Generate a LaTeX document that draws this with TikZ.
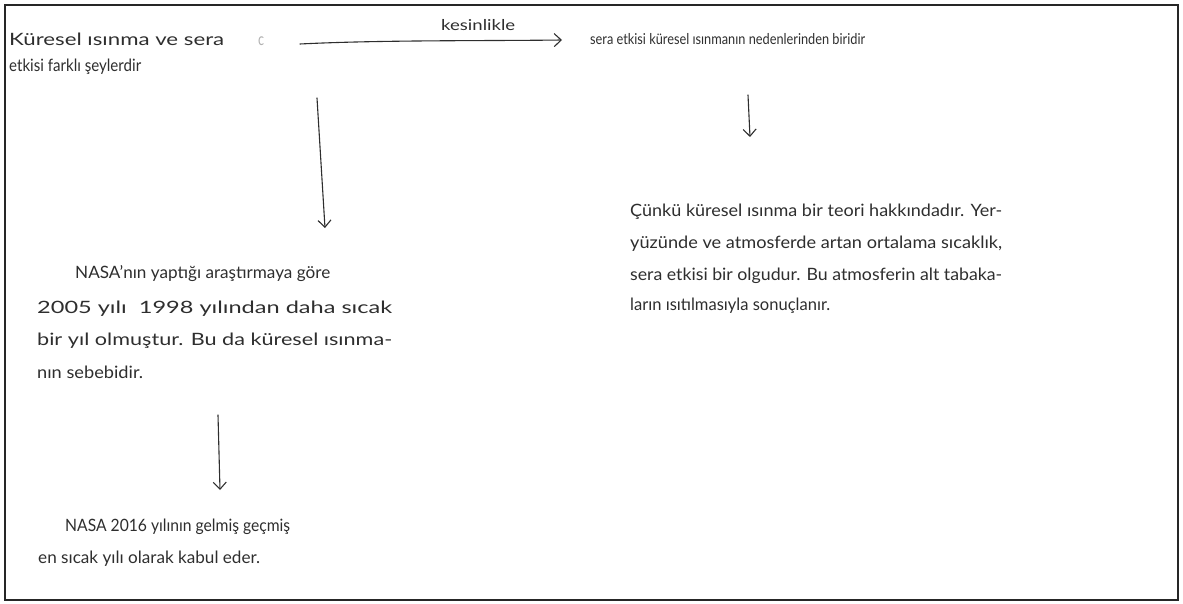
\documentclass[tikz,border=0pt]{standalone}
\usepackage{fontspec}
\setmainfont{Lato}
\usetikzlibrary{arrows.meta}
\definecolor{ink}{HTML}{2E2E2E}
\definecolor{faint}{HTML}{B0B0B0}
% set a line of text and stretch it horizontally to a given width (in pt)
\newcommand\fitline[2]{\sbox0{#2}\pgfmathsetmacro\fitf{#1/\wd0}\scalebox{\fitf}[1]{\usebox0}}
\tikzset{
  hand/.style={anchor=base west, inner sep=0pt, text=ink, font=\fontsize{17}{20}\selectfont},
  smallhand/.style={hand, font=\fontsize{15}{18}\selectfont},
  pen/.style={draw=ink, line width=1.1pt, line cap=round,
    -{Straight Barb[length=7pt,width=13pt,line width=1.1pt]}},
  frame/.style={draw=black!85, line width=2pt}
}
\begin{document}
\begin{tikzpicture}[x=1pt,y=-1pt]
\useasboundingbox (0,0) rectangle (1183,604);
\draw[frame] (5,5) rectangle (1178,600);

% opening statement
\node[hand] (a1) at (9,46) {\fitline{215}{Küresel ısınma ve sera}};
\node[hand] (a2) at (9,72) {\fitline{132}{etkisi farklı şeylerdir}};
\node[hand, text=faint] (ac) at (258,46) {\fitline{6}{c}};

% answer on the right
\node[smallhand] (b1) at (590,45) {\fitline{275}{sera etkisi küresel ısınmanın nedenlerinden biridir}};
\node[smallhand] (kes) at (441,31) {\fitline{74}{kesinlikle}};

\coordinate (k0) at (300,44);
\coordinate (k1) at (562,40);
\draw[pen] (k0) .. controls (380,40) and (480,41) .. (k1);

% right branch
\coordinate (r0) at (748,95);
\coordinate (r1) at (750,137);
\draw[pen] (r0) -- (r1);
\node[hand] (c1) at (630,216) {\fitline{372}{Çünkü küresel ısınma bir teori hakkındadır. Yer-}};
\node[hand] (c2) at (630,248) {\fitline{372}{yüzünde ve atmosferde artan ortalama sıcaklık,}};
\node[hand] (c3) at (630,280) {\fitline{372}{sera etkisi bir olgudur. Bu atmosferin alt tabaka-}};
\node[hand] (c4) at (630,310) {\fitline{200}{ların ısıtılmasıyla sonuçlanır.}};

% left branch
\coordinate (l0) at (317,98);
\coordinate (l1) at (325,228);
\draw[pen] (l0) -- (l1);
\node[hand] (d1) at (75,278) {\fitline{255}{NASA'nın yaptığı araştırmaya göre}};
\node[hand] (d2) at (37,313) {\fitline{355}{2005 yılı \ 1998 yılından daha sıcak}};
\node[hand] (d3) at (37,345) {\fitline{355}{bir yıl olmuştur. Bu da küresel ısınma-}};
\node[hand] (d4) at (37,378) {\fitline{106}{nın sebebidir.}};

\coordinate (m0) at (218,415);
\coordinate (m1) at (220,490);
\draw[pen] (m0) -- (m1);
\node[hand] (e1) at (65,531) {\fitline{225}{NASA 2016 yılının gelmiş geçmiş}};
\node[hand] (e2) at (38,563) {\fitline{222}{en sıcak yılı olarak kabul eder.}};
\end{tikzpicture}
\end{document}
